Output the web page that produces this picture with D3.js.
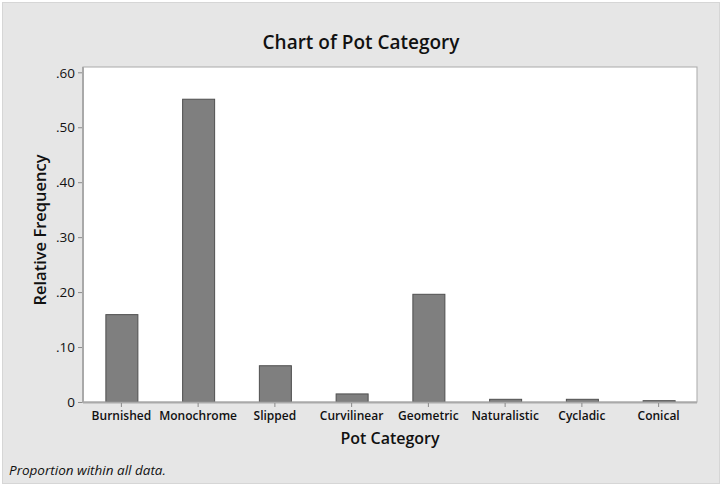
<!DOCTYPE html>
<html>
<head>
<meta charset="utf-8">
<script src="https://cdn.jsdelivr.net/npm/d3@7"></script>
<style>
html, body { margin: 0; padding: 0; background: #ffffff; }
svg { display: block; }
</style>
</head>
<body>
<svg id="chart" width="721" height="484"></svg>
<script>
const categories = ["Burnished", "Monochrome", "Slipped", "Curvilinear", "Geometric", "Naturalistic", "Cycladic", "Conical"];
const proportions = [0.159, 0.551, 0.066, 0.0147, 0.196, 0.0049, 0.0049, 0.0024];
const yTicks = [0, 0.10, 0.20, 0.30, 0.40, 0.50, 0.60];
const yTickLabels = ["0", ".10", ".20", ".30", ".40", ".50", ".60"];
const titleText = "Chart of Pot Category";
const xTitle = "Pot Category";
const yTitle = "Relative Frequency";
const footnote = "Proportion within all data.";

const W = 721, H = 484;
const plot = { left: 83, right: 697, top: 67, bottom: 402 };
const font = "'Open Sans', 'Noto Sans', sans-serif";

const svg = d3.select("#chart");

svg.append("rect")
  .attr("x", 2.5).attr("y", 2.5).attr("width", W - 4).attr("height", H - 3)
  .attr("fill", "#e6e6e6").attr("stroke", "#d6d6d6").attr("stroke-width", 1);

const x = d3.scaleBand().domain(categories)
  .range([plot.left, plot.right]).paddingInner(0.583).paddingOuter(0.2915);
const y = d3.scaleLinear().domain([0, 0.6]).range([plot.bottom, 72.3]);

svg.append("rect")
  .attr("x", plot.left).attr("y", plot.top)
  .attr("width", plot.right - plot.left).attr("height", plot.bottom - plot.top)
  .attr("fill", "#ffffff").attr("stroke", "#a9a9a9").attr("stroke-width", 1);

svg.append("g").selectAll("rect").data(categories).join("rect")
  .attr("x", d => x(d) + 0.5)
  .attr("y", (d, i) => y(proportions[i]))
  .attr("width", x.bandwidth())
  .attr("height", (d, i) => plot.bottom - y(proportions[i]))
  .attr("fill", "#7f7f7f").attr("stroke", "#4f4f4f").attr("stroke-width", 1);

svg.append("line").attr("x1", plot.left).attr("x2", plot.left)
  .attr("y1", plot.top).attr("y2", plot.bottom + 1)
  .attr("stroke", "#a9a9a9").attr("stroke-width", 2);
svg.append("line").attr("x1", plot.left).attr("x2", plot.right)
  .attr("y1", plot.bottom + 0.5).attr("y2", plot.bottom + 0.5)
  .attr("stroke", "#a9a9a9").attr("stroke-width", 2);

const yAxis = d3.axisLeft(y).tickValues(yTicks)
  .tickFormat((d, i) => yTickLabels[i]).tickSize(4).tickPadding(3);
const gy = svg.append("g").attr("transform", `translate(${plot.left - 1},0)`).call(yAxis);
gy.select(".domain").remove();
gy.selectAll(".tick line").attr("stroke", "#8a8a8a");
gy.selectAll(".tick text").attr("font-family", font).attr("font-size", 13.5)
  .attr("fill", "#111").attr("dy", "0.35em");

const xAxis = d3.axisBottom(x).tickSize(4).tickPadding(4);
const gx = svg.append("g").attr("transform", `translate(0,${plot.bottom + 1})`).call(xAxis);
gx.select(".domain").remove();
gx.selectAll(".tick line").attr("stroke", "#8a8a8a");
gx.selectAll(".tick text").attr("font-family", font).attr("font-size", 12)
  .attr("font-weight", 600).attr("fill", "#111");

svg.append("text").attr("x", 361).attr("y", 49)
  .attr("text-anchor", "middle").attr("font-family", font)
  .attr("font-size", 19).attr("font-weight", 600).attr("fill", "#111")
  .text(titleText);

svg.append("text").attr("x", (plot.left + plot.right) / 2).attr("y", 444)
  .attr("text-anchor", "middle").attr("font-family", font)
  .attr("font-size", 16).attr("font-weight", 600).attr("fill", "#111")
  .text(xTitle);

svg.append("text")
  .attr("transform", `translate(46,230) rotate(-90)`)
  .attr("text-anchor", "middle").attr("font-family", font)
  .attr("font-size", 16.5).attr("font-weight", 600).attr("fill", "#111")
  .text(yTitle);

svg.append("text").attr("x", 9).attr("y", 475)
  .attr("font-family", font).attr("font-size", 13.5).attr("font-style", "italic")
  .attr("fill", "#111").text(footnote);
</script>
</body>
</html>
